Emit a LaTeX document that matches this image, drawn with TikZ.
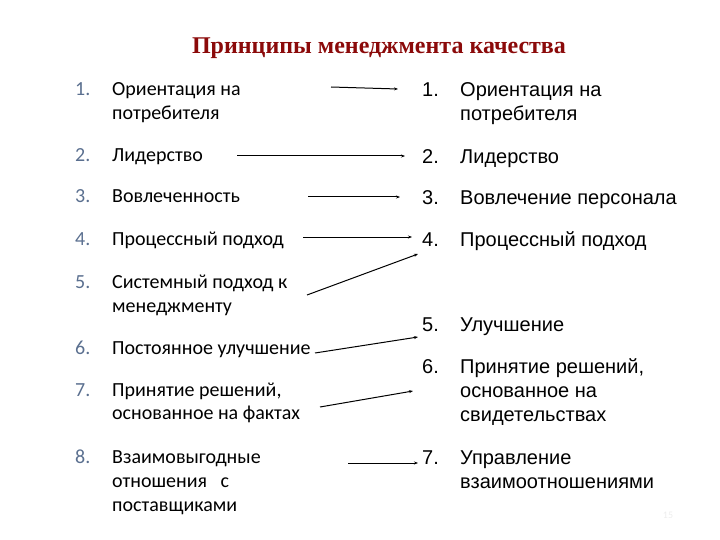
\documentclass[tikz,border=0pt]{standalone}
\usepackage{fontspec}
\setmainfont{Liberation Serif}
\newfontfamily\leftfont{Carlito}
\newfontfamily\rightfont{Liberation Sans}
\usetikzlibrary{arrows.meta}
\definecolor{titlered}{HTML}{8B0A0A}
\definecolor{numblue}{HTML}{5A6F8F}
\tikzset{
  ltext/.style={anchor=base west, inner sep=0pt, font=\leftfont\fontsize{20}{24}\selectfont},
  lnum/.style={ltext, text=numblue},
  rtext/.style={anchor=base west, inner sep=0pt, font=\rightfont\fontsize{20}{24}\selectfont},
  conn/.style={-{Stealth[length=4pt,width=3pt]}, line width=1pt},
}
\begin{document}
\begin{tikzpicture}[x=1pt,y=-1pt]
\useasboundingbox (0,0) rectangle (720,540);
\node[anchor=base, inner sep=0pt, font=\bfseries\fontsize{24}{28}\selectfont, text=titlered] (title) at (379,54) {Принципы менеджмента качества};
% left list
\node[lnum] (ln1) at (75,96) {1.};
\node[ltext] (l1a) at (112,96) {Ориентация на};
\node[ltext] (l1b) at (112,120) {потребителя};
\node[lnum] (ln2) at (75,162) {2.};
\node[ltext] (l2) at (112,162) {Лидерство};
\node[lnum] (ln3) at (75,203) {3.};
\node[ltext] (l3) at (112,203) {Вовлеченность};
\node[lnum] (ln4) at (75,245) {4.};
\node[ltext] (l4) at (112,245) {Процессный подход};
\node[lnum] (ln5) at (75,288) {5.};
\node[ltext] (l5a) at (112,288) {Системный подход к};
\node[ltext] (l5b) at (112,312) {менеджменту};
\node[lnum] (ln6) at (75,354) {6.};
\node[ltext] (l6) at (112,354) {Постоянное улучшение};
\node[lnum] (ln7) at (75,396) {7.};
\node[ltext] (l7a) at (112,396) {Принятие решений,};
\node[ltext] (l7b) at (112,419) {основанное на фактах};
\node[lnum] (ln8) at (75,463) {8.};
\node[ltext] (l8a) at (112,463) {Взаимовыгодные};
\node[ltext] (l8b) at (112,487) {отношения\ \ \ с};
\node[ltext] (l8c) at (112,511) {поставщиками};
% right list
\node[rtext] (rn1) at (422,97) {1.};
\node[rtext] (r1a) at (460,97) {Ориентация на};
\node[rtext] (r1b) at (460,121) {потребителя};
\node[rtext] (rn2) at (422,164) {2.};
\node[rtext] (r2) at (460,164) {Лидерство};
\node[rtext] (rn3) at (422,205) {3.};
\node[rtext] (r3) at (460,205) {Вовлечение персонала};
\node[rtext] (rn4) at (422,247) {4.};
\node[rtext] (r4) at (460,247) {Процессный подход};
\node[rtext] (rn5) at (422,331) {5.};
\node[rtext] (r5) at (460,331) {Улучшение};
\node[rtext] (rn6) at (422,373) {6.};
\node[rtext] (r6a) at (460,373) {Принятие решений,};
\node[rtext] (r6b) at (460,397) {основанное на};
\node[rtext] (r6c) at (460,421) {свидетельствах};
\node[rtext] (rn7) at (422,464) {7.};
\node[rtext] (r7a) at (460,464) {Управление};
\node[rtext] (r7b) at (460,488) {взаимоотношениями};
\node[anchor=base, inner sep=0pt, font=\leftfont\fontsize{10}{12}\selectfont, text=black!7] (pg) at (668,518) {15};
% arrow ends
\coordinate (s1) at (331,87);  \coordinate (e1) at (398,89);
\coordinate (s2) at (237,156); \coordinate (e2) at (405,156);
\coordinate (s3) at (308,197); \coordinate (e3) at (400,197);
\coordinate (s4) at (303,237); \coordinate (e4) at (412,237);
\coordinate (s5) at (307,295); \coordinate (e5) at (418,254);
\coordinate (s6) at (315,353); \coordinate (e6) at (418,337);
\coordinate (s7) at (320,407); \coordinate (e7) at (413,391);
\coordinate (s8) at (348,463); \coordinate (e8) at (418,463);
\foreach \i in {1,...,8} \draw[conn] (s\i) -- (e\i);
\end{tikzpicture}
\end{document}
